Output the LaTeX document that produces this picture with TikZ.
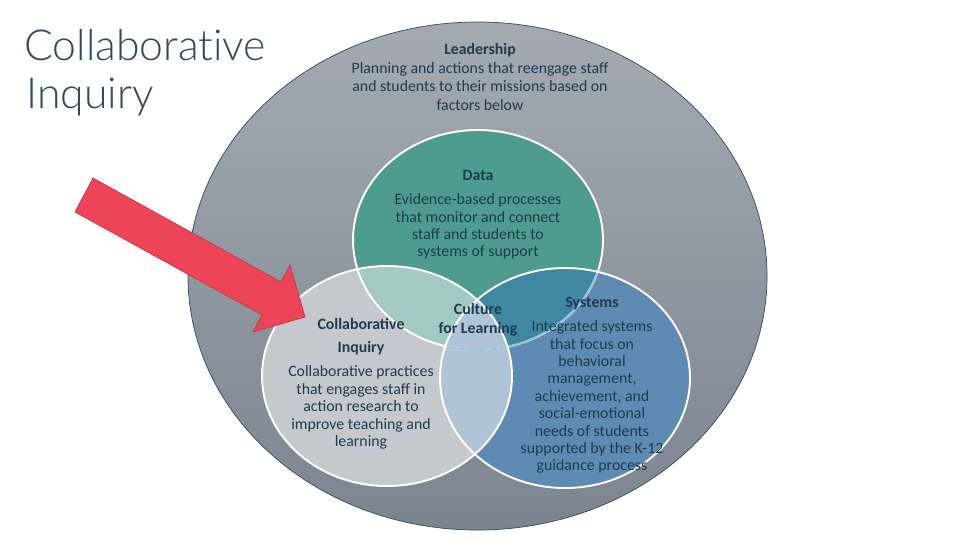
\documentclass[tikz,border=0pt]{standalone}
\usepackage{fontspec}
\setmainfont{Carlito}
\newfontfamily\titlefont{Lato Light}[Ligatures=NoCommon]
\usepackage{xcolor}
\usetikzlibrary{math}
\definecolor{qnavy}{HTML}{1F3B4F}
\definecolor{qtitle}{HTML}{2E4A5C}
\definecolor{qtop}{HTML}{A3AAB2}
\definecolor{qbottom}{HTML}{7B8590}
\definecolor{qedge}{HTML}{34485A}
\definecolor{qteal}{HTML}{4E9B8F}
\definecolor{qgray}{HTML}{C5C9CE}
\definecolor{qblue}{HTML}{5F8AB3}
\definecolor{qtealgray}{HTML}{A3C9C3}
\definecolor{qtealblue}{HTML}{3F88A2}
\definecolor{qgrayblue}{HTML}{B0C4D8}
\definecolor{qcenter}{HTML}{A9C8D2}
\definecolor{qline}{HTML}{9CC3DE}
\definecolor{qred}{HTML}{EE4458}
\definecolor{qdarkred}{HTML}{C4364A}

\begin{document}
\begin{tikzpicture}[x=0.2mm,y=-0.2mm,
  txt/.style={text=qnavy,align=center,inner sep=0pt,font=\fontsize{9}{9.9}\selectfont}]

\tikzmath{
\Rx = 57.9; %big ellipse, mm
\Ry = 50.8;
\rx = 25; %small ones
\ry = 22;
}

\useasboundingbox (0,0) rectangle (960,540);

\def\dataE{(478,240) ellipse [x radius=\rx mm, y radius=\ry mm]}
\def\collabE{(387,376) ellipse [x radius=\rx mm, y radius=\ry mm]}
\def\systemsE{(565,378) ellipse [x radius=\rx mm, y radius=\ry mm]}

%title:
\node[anchor=base west,inner sep=0pt,text=qtitle,font=\titlefont\fontsize{24.3}{24.3}\selectfont] (title) at (24,60) {Collaborative};
\node[anchor=base west,inner sep=0pt,text=qtitle,font=\titlefont\fontsize{24.3}{24.3}\selectfont] (title2) at (26,108) {Inquiry};

%leadership:
\shade[top color=qtop, bottom color=qbottom, draw=qedge, line width=0.4pt] (477.5,276) ellipse [x radius=\Rx mm, y radius=\Ry mm];

%circles:
\fill[qteal] \dataE;
\fill[qgray] \collabE;
\fill[qblue] \systemsE;
\begin{scope}
\clip \dataE;
\fill[qtealgray] \collabE;
\fill[qtealblue] \systemsE;
\clip \collabE;
\fill[qcenter] \systemsE;
\end{scope}
\begin{scope}
\clip \collabE;
\fill[qgrayblue] \systemsE;
\end{scope}

%outlines
\draw[white, line width=1.1pt] \dataE;
\begin{scope}
\clip \systemsE;
\draw[qline, line width=1.1pt] \dataE;
\end{scope}
\draw[white, line width=1.1pt] \collabE;
\draw[white, line width=1.1pt] \systemsE;

%texts
\node[txt,font=\fontsize{9}{10.8}\selectfont] (lead) at (480,77) {\textbf{Leadership}\\Planning and actions that reengage staff\\and students to their missions based on\\factors below};
\node[txt] (data) at (478,215) {\textbf{Data}\\[3.7pt]Evidence-based processes\\that monitor and connect\\staff and students to\\systems of support};
\node[txt] (collab) at (361,383.5) {\textbf{Collaborative}\\[3.7pt]\textbf{Inquiry}\\[3.7pt]Collaborative practices\\that engages staff in\\action research to\\improve teaching and\\learning};
\node[txt,font=\fontsize{9}{10.8}\selectfont] (culture) at (478,319.5) {\textbf{Culture}\\\textbf{for Learning}};
\node[txt] (systems) at (592,385.5) {\textbf{Systems}\\[3.7pt]Integrated systems\\that focus on\\behavioral\\management,\\achievement, and\\social-emotional\\needs of students\\supported by the K-12\\guidance process};

%arrow
\draw[fill=qred, draw=qdarkred, line width=0.4pt] (93,178) -- (281,282) -- (290,265) -- (305,317) -- (253,332) -- (262,315) -- (75,212) -- cycle;

\end{tikzpicture}
\end{document}
